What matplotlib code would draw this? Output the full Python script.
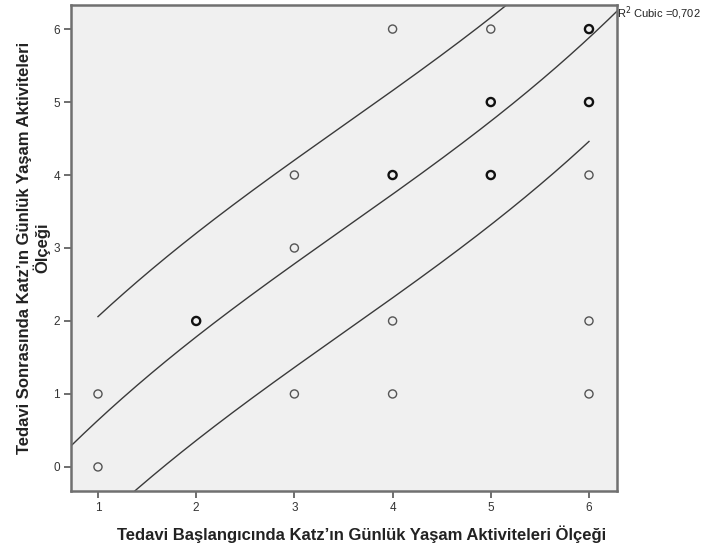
import matplotlib.pyplot as plt
import numpy as np

plt.rcParams['font.family'] = ['Liberation Sans', 'DejaVu Sans']

# Data
baslangic = [1, 1, 2, 3, 3, 3, 4, 4, 4, 4, 5, 5, 5, 6, 6, 6, 6, 6]
sonrasi = [0, 1, 2, 1, 3, 4, 1, 2, 4, 6, 4, 5, 6, 1, 2, 4, 5, 6]
# overlapping cases draw darker / heavier circles
n_cases = [1, 1, 2, 1, 1, 1, 1, 1, 2, 1, 2, 2, 1, 1, 1, 1, 2, 2]

# cubic fit, centred at x0: y = c0 + c1*(x-x0) + c2*(x-x0)^2 + c3*(x-x0)^3
fit_x0 = 3.5
fit_coef = [3.26, 0.95, 0.0, 0.0157]
interval_half = 1.42
r2_text = 'R$^2$ Cubic =0,702'

x_label = 'Tedavi Başlangıcında Katz’ın Günlük Yaşam Aktiviteleri Ölçeği'
y_label = 'Tedavi Sonrasında Katz’ın Günlük Yaşam Aktiviteleri\nÖlçeği'


def cubic(x):
    t = x - fit_x0
    return fit_coef[0] + fit_coef[1] * t + fit_coef[2] * t ** 2 + fit_coef[3] * t ** 3


fig = plt.figure(figsize=(7.09, 5.48), dpi=100)
ax = fig.add_axes([0.1001, 0.104, 0.7701, 0.8869])
ax.set_facecolor('#f0f0f0')

xlim = (0.725, 6.285)
ylim = (-0.33, 6.33)

# fit line over the whole axis, interval lines over the data range
xf = np.linspace(xlim[0], xlim[1], 300)
ax.plot(xf, cubic(xf), color='#3a3a3a', lw=1.0, zorder=2)
xd = np.linspace(min(baslangic), max(baslangic), 300)
ax.plot(xd, cubic(xd) + interval_half, color='#3a3a3a', lw=1.0, zorder=2)
ax.plot(xd, cubic(xd) - interval_half, color='#3a3a3a', lw=1.0, zorder=2)

for xv, yv, n in zip(baslangic, sonrasi, n_cases):
    ax.scatter(xv, yv, s=34, facecolors='none',
               edgecolors='#111111' if n > 1 else '#555555',
               linewidths=1.7 if n > 1 else 1.0, zorder=3)

ax.set_xlim(*xlim)
ax.set_ylim(*ylim)
ax.set_xticks([1, 2, 3, 4, 5, 6])
ax.set_yticks([0, 1, 2, 3, 4, 5, 6])

for s in ax.spines.values():
    s.set_color('#707070')
    s.set_linewidth(1.8)

ax.tick_params(direction='out', length=5, width=1.2, color='#555555',
               labelsize=8.5, labelcolor='#333333', pad=3)

ax.set_xlabel(x_label, fontsize=12, fontweight='bold', color='#222222')
ax.xaxis.set_label_coords(0.533, -0.07)
ax.set_ylabel(y_label, fontsize=12, fontweight='bold', color='#222222', labelpad=2,
              linespacing=1.05)

ax.text(1.0, 0.983, r2_text, transform=ax.transAxes, fontsize=8,
        color='#222222', ha='left', va='center', clip_on=False)

fig.savefig('out.png', dpi=100)
